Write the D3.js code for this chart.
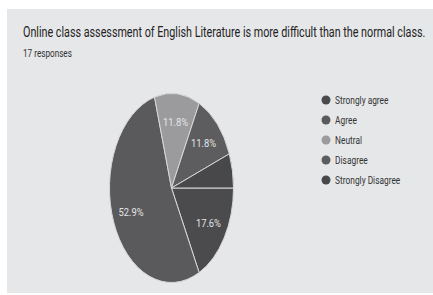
<!DOCTYPE html>
<html>
<head>
<meta charset="utf-8">
<script src="https://cdn.jsdelivr.net/npm/d3@7"></script>
<style>
  body { margin: 0; background: #fff; }
  svg { display: block; font-family: Roboto, "Liberation Sans", sans-serif; }
</style>
</head>
<body>
<div id="chart"></div>
<script>
const title = 'Online class assessment of English Literature is more difficult than the normal class.'
const subtitle = '17 responses'
const categories = ['Strongly agree', 'Agree', 'Neutral', 'Disagree', 'Strongly Disagree']
const responses = [3, 9, 2, 2, 1]
const colors = ['#4b4b4d', '#5a5a5c', '#9b9b9d', '#5d5d5f', '#48484a']

const width = 433, height = 295
const cx = 171.5, cy = 188, rx = 62, ry = 94.5

const svg = d3.select('#chart').append('svg')
  .attr('width', width)
  .attr('height', height)

svg.append('rect')
  .attr('x', 7).attr('y', 9)
  .attr('width', width - 7).attr('height', 284)
  .attr('fill', '#e6e7e9')

// squeeze a text horizontally so it spans the given width
function fitWidth(sel, x, w) {
  const len = sel.node().getComputedTextLength()
  const k = Math.min(1, w / len)
  sel.attr('x', 0).attr('transform', `translate(${x},${sel.attr('y')}) scale(${k},1)`).attr('y', 0)
}

const titleText = svg.append('text')
  .attr('y', 37)
  .attr('font-size', 14)
  .attr('fill', '#222')
  .text(title)
fitWidth(titleText, 23, 403)

const subText = svg.append('text')
  .attr('y', 57)
  .attr('font-size', 10.5)
  .attr('fill', '#333')
  .text(subtitle)
fitWidth(subText, 23, 49)

const total = d3.sum(responses)
const data = categories.map((c, i) => ({ name: c, value: responses[i], color: colors[i] }))

// slices start at 3 o'clock and go clockwise
const pie = d3.pie().value(d => d.value).sort(null)
  .startAngle(Math.PI / 2).endAngle(Math.PI / 2 + 2 * Math.PI)
const arcs = pie(data)
const arc = d3.arc().innerRadius(0).outerRadius(ry)
const labelArc = d3.arc().innerRadius(ry * 0.7).outerRadius(ry * 0.7)
const sx = rx / ry

const g = svg.append('g')
  .attr('transform', `translate(${cx},${cy}) scale(${sx},1)`)

g.selectAll('path')
  .data(arcs)
  .enter().append('path')
    .attr('d', arc)
    .attr('fill', d => d.data.color)
    .attr('stroke', '#d8d8da')
    .attr('stroke-width', 1)
    .attr('vector-effect', 'non-scaling-stroke')

svg.selectAll('.slice-label')
  .data(arcs.filter(d => d.data.value / total > 0.08))
  .enter().append('text')
    .attr('class', 'slice-label')
    .attr('text-anchor', 'middle')
    .attr('dy', '0.35em')
    .attr('font-size', 11)
    .attr('fill', '#e4e4e6')
    .attr('transform', d => {
      const c = labelArc.centroid(d)
      return `translate(${cx + c[0] * sx},${cy + c[1]}) scale(0.85,1)`
    })
    .text(d => (d.data.value / total * 100).toFixed(1) + '%')

const legend = svg.selectAll('.legend')
  .data(data)
  .enter().append('g')
    .attr('class', 'legend')
    .attr('transform', (d, i) => `translate(326,${100 + i * 20})`)

legend.append('circle')
  .attr('r', 4.5)
  .attr('fill', d => d.color)

legend.append('text')
  .attr('x', 12)
  .attr('dy', '0.35em')
  .attr('font-size', 11)
  .attr('fill', '#333')
  .attr('transform', 'scale(0.76,1)')
  .text(d => d.name)
</script>
</body>
</html>
